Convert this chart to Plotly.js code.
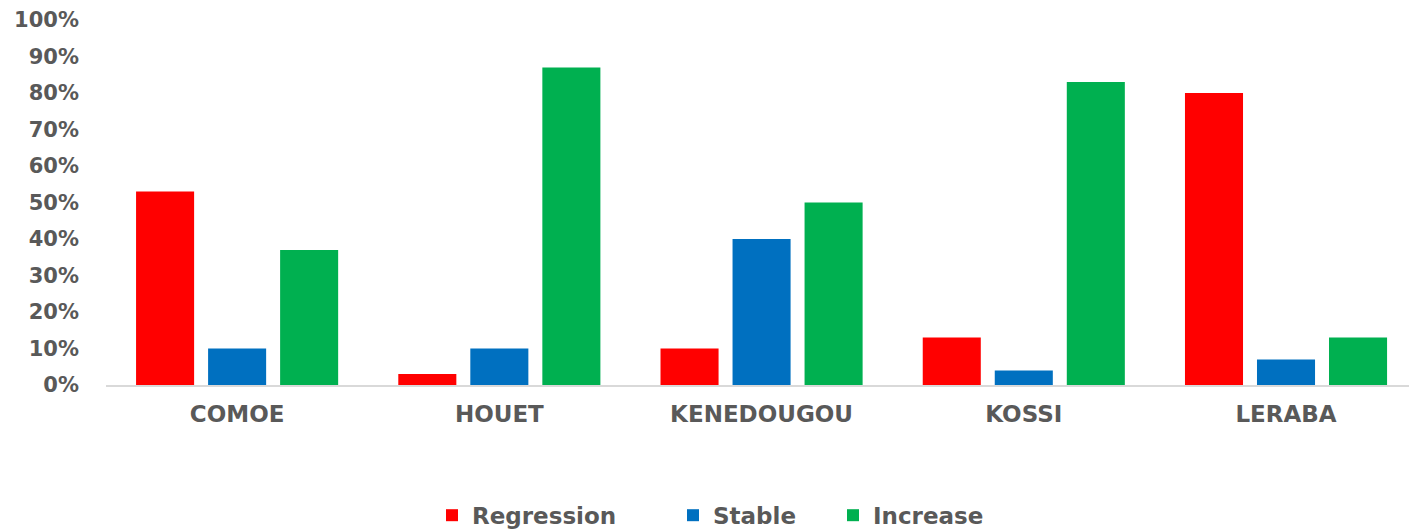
<!DOCTYPE html>
<html>
<head>
<meta charset="utf-8">
<script src="https://cdn.plot.ly/plotly-3.0.1.min.js"></script>
<style>html,body{margin:0;padding:0;background:#fff;}#chart{width:1409px;height:529px;}</style>
</head>
<body>
<div id="chart"></div>
<script>
const categories = ["COMOE", "HOUET", "KENEDOUGOU", "KOSSI", "LERABA"];
const regression = [53, 3, 10, 13, 80];
const stable = [10, 10, 40, 4, 7];
const increase = [37, 87, 50, 83, 13];
const yTicks = [0, 10, 20, 30, 40, 50, 60, 70, 80, 90, 100];
const yTickLabels = yTicks.map(v => v + "%");

const font = {family: "DejaVu Sans, Verdana, sans-serif", color: "#595959", size: 21};

const traces = [
  {type: "bar", name: "Regression", x: categories, y: regression, marker: {color: "#FF0000"}, legend: "legend"},
  {type: "bar", name: "Stable", x: categories, y: stable, marker: {color: "#0070C0"}, legend: "legend2"},
  {type: "bar", name: "Increase", x: categories, y: increase, marker: {color: "#00B050"}, legend: "legend3"}
];

const legendBase = {orientation: "h", yref: "container", xref: "container", yanchor: "middle", y: 0.026, xanchor: "left",
  font: {family: font.family, color: "#595959", size: 23, weight: "bold"}, bgcolor: "rgba(0,0,0,0)", itemwidth: 30};

const layout = {
  width: 1409, height: 529,
  margin: {l: 106, r: 0, t: 20, b: 144},
  paper_bgcolor: "#fff", plot_bgcolor: "#fff",
  barmode: "group", bargap: 0.176, bargroupgap: 0.194,
  font: font,
  showlegend: true,
  legend: Object.assign({}, legendBase, {x: 432 / 1409}),
  legend2: Object.assign({}, legendBase, {x: 673 / 1409}),
  legend3: Object.assign({}, legendBase, {x: 833 / 1409}),
  xaxis: {
    type: "category", range: [-0.5, 4.469],
    showline: true, linecolor: "#d9d9d9", linewidth: 1.5,
    showgrid: false, zeroline: false, ticks: "",
    ticklabelstandoff: 8,
    tickfont: {family: font.family, color: "#595959", size: 23, weight: "bold"}
  },
  yaxis: {
    range: [0, 100], tickvals: yTicks, ticktext: yTickLabels,
    showgrid: false, zeroline: false, showline: false, ticks: "",
    ticklabelstandoff: 26,
    tickfont: {family: font.family, color: "#595959", size: 21, weight: "bold"}
  }
};

Plotly.newPlot("chart", traces, layout, {displayModeBar: false, staticPlot: true});
</script>
</body>
</html>
